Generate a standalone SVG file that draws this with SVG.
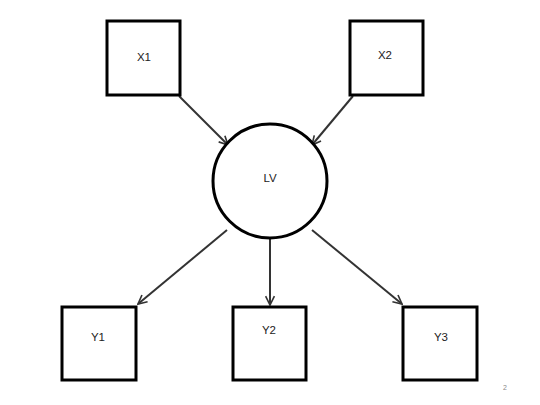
<svg xmlns="http://www.w3.org/2000/svg" width="540" height="405" viewBox="0 0 540 405">
<style>
.box{fill:#fff;stroke:#000;stroke-width:3}
.lbl{font-family:"Liberation Sans",Arial,sans-serif;font-size:11.5px;fill:#222;text-anchor:middle;dominant-baseline:central}
.edge{stroke:#333;stroke-width:2;fill:none;marker-end:url(#arr)}
</style>
<defs>
<marker id="arr" viewBox="0 0 10 10" refX="9" refY="5" markerWidth="11" markerHeight="11" orient="auto" markerUnits="userSpaceOnUse">
<path d="M1,1 L9,5 L1,9" fill="none" stroke="#333" stroke-width="1.5"/>
</marker>
</defs>
<rect width="540" height="405" fill="#fff"/>
<g id="connectors">
<line class="edge" x1="179" y1="96" x2="228" y2="145"/>
<line class="edge" x1="353" y1="96" x2="312" y2="145"/>
<line class="edge" x1="227" y1="230" x2="138" y2="304"/>
<line class="edge" x1="270" y1="238" x2="270" y2="305"/>
<line class="edge" x1="312" y1="230" x2="402" y2="304"/>
</g>
<g id="X1"><rect class="box" x="107" y="21" width="73" height="74"/><text class="lbl" x="144" y="57">X1</text></g>
<g id="X2"><rect class="box" x="350" y="21" width="73" height="74"/><text class="lbl" x="385" y="55">X2</text></g>
<g id="LV"><circle class="box" cx="270" cy="181" r="57"/><text class="lbl" x="270" y="178">LV</text></g>
<g id="Y1"><rect class="box" x="62" y="307" width="74" height="73"/><text class="lbl" x="98" y="337">Y1</text></g>
<g id="Y2"><rect class="box" x="233" y="307" width="73" height="73"/><text class="lbl" x="269" y="330">Y2</text></g>
<g id="Y3"><rect class="box" x="403" y="307" width="74" height="73"/><text class="lbl" x="441" y="337">Y3</text></g>
<text x="505" y="387" style="font-family:'Liberation Sans',Arial,sans-serif;font-size:7px;fill:#888;text-anchor:middle;dominant-baseline:central">2</text>
</svg>
